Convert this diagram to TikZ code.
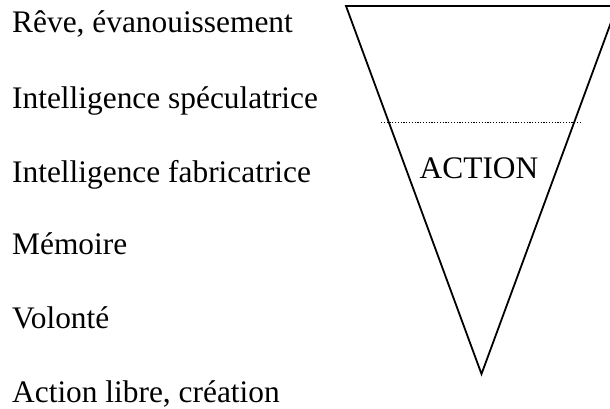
\documentclass[tikz,border=0pt]{standalone}
\usepackage{fontspec}
\setmainfont{Liberation Serif}
\begin{document}
\begin{tikzpicture}[x=1bp,y=-1bp,
  lbl/.style={anchor=base west,inner sep=0pt,font=\fontsize{31.5}{36}\selectfont},
  edge/.style={line width=1.8bp,line join=miter}]
\useasboundingbox (0,0) rectangle (610,408);
\clip (0,0) rectangle (610,408);
\fill[white] (0,0) rectangle (610,408);
\node[lbl] (l1) at (12,32) {Rêve, évanouissement};
\node[lbl] (l2) at (12,108) {Intelligence spéculatrice};
\node[lbl] (l3) at (12,182) {Intelligence fabricatrice};
\node[lbl] (l4) at (12,254) {Mémoire};
\node[lbl] (l5) at (12,328) {Volonté};
\node[lbl] (l6) at (12,402) {Action libre, création};
\coordinate (tl) at (346,6);
\coordinate (tr) at (617,6);
\coordinate (ap) at (481.5,374);
\draw[edge] (tl) -- (tr) -- (ap) -- cycle;
\coordinate (dl) at (381,122.5);
\coordinate (dr) at (580,122.5);
\draw[line width=1.2bp,dash pattern=on 1.2bp off 1.6bp] (dl) -- (dr);
\node[lbl,anchor=base] (act) at (479,178) {ACTION};
\end{tikzpicture}
\end{document}
